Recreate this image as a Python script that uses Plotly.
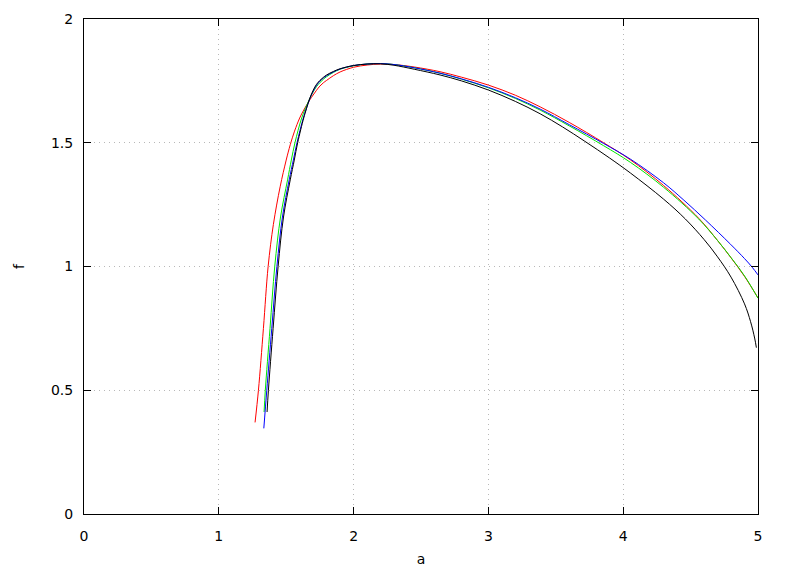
import plotly.graph_objects as go

# ---- data ----
red_a = [1.269, 1.294, 1.331, 1.366, 1.405, 1.455, 1.500, 1.530, 1.562, 1.600, 1.630, 1.675, 1.700, 1.725, 1.750, 1.775, 1.800, 1.850, 1.900, 2.000, 2.100, 2.200, 2.300, 2.450, 2.641, 2.800, 3.000, 3.200, 3.384, 3.600, 3.855, 4.053, 4.300, 4.560, 4.700, 4.800, 4.900, 5.000]
red_f = [0.370, 0.500, 0.750, 1.000, 1.170, 1.322, 1.430, 1.492, 1.547, 1.600, 1.632, 1.673, 1.693, 1.712, 1.729, 1.742, 1.752, 1.771, 1.786, 1.805, 1.814, 1.818, 1.816, 1.806, 1.787, 1.765, 1.733, 1.692, 1.645, 1.582, 1.500, 1.431, 1.327, 1.195, 1.105, 1.035, 0.960, 0.873]

green_a = [1.336, 1.345, 1.380, 1.415, 1.458, 1.510, 1.538, 1.565, 1.615, 1.670, 1.700, 1.725, 1.750, 1.775, 1.800, 1.850, 1.900, 2.000, 2.100, 2.200, 2.300, 2.450, 2.641, 2.800, 3.000, 3.200, 3.384, 3.600, 3.855, 4.053, 4.300, 4.560, 4.700, 4.800, 4.900, 5.000]
green_f = [0.412, 0.500, 0.750, 1.000, 1.200, 1.350, 1.430, 1.500, 1.600, 1.673, 1.705, 1.727, 1.743, 1.756, 1.767, 1.784, 1.797, 1.811, 1.818, 1.820, 1.816, 1.803, 1.781, 1.757, 1.722, 1.679, 1.632, 1.568, 1.488, 1.421, 1.320, 1.192, 1.105, 1.036, 0.962, 0.872]

blue_a = [1.334, 1.356, 1.393, 1.431, 1.472, 1.522, 1.553, 1.580, 1.627, 1.672, 1.700, 1.725, 1.750, 1.775, 1.800, 1.850, 1.900, 2.000, 2.100, 2.200, 2.300, 2.450, 2.641, 2.800, 3.000, 3.200, 3.384, 3.600, 3.855, 4.053, 4.300, 4.450, 4.610, 4.796, 4.900, 4.957, 5.000]
blue_f = [0.346, 0.500, 0.750, 1.000, 1.200, 1.350, 1.430, 1.500, 1.600, 1.673, 1.708, 1.732, 1.749, 1.761, 1.771, 1.786, 1.798, 1.812, 1.818, 1.820, 1.816, 1.803, 1.781, 1.758, 1.724, 1.682, 1.636, 1.573, 1.497, 1.434, 1.338, 1.268, 1.188, 1.090, 1.032, 0.997, 0.966]

black_a = [1.358, 1.368, 1.403, 1.440, 1.480, 1.530, 1.560, 1.585, 1.630, 1.650, 1.670, 1.700, 1.725, 1.750, 1.775, 1.800, 1.850, 1.900, 2.000, 2.100, 2.200, 2.300, 2.450, 2.641, 2.800, 3.000, 3.200, 3.384, 3.550, 3.715, 3.900, 4.053, 4.300, 4.461, 4.600, 4.700, 4.800, 4.900, 4.945, 4.975, 4.988]
black_f = [0.412, 0.500, 0.750, 1.000, 1.200, 1.350, 1.430, 1.500, 1.600, 1.637, 1.672, 1.712, 1.736, 1.752, 1.764, 1.774, 1.788, 1.799, 1.812, 1.818, 1.819, 1.813, 1.797, 1.774, 1.750, 1.713, 1.667, 1.617, 1.564, 1.506, 1.438, 1.378, 1.272, 1.192, 1.109, 1.039, 0.957, 0.849, 0.777, 0.711, 0.672]

x_ticks = [0, 1, 2, 3, 4, 5]
y_ticks = [0, 0.5, 1, 1.5, 2]
y_tick_labels = ["0", "0.5", "1", "1.5", "2"]

series = [
    (red_a, red_f, "#ff0000"),
    (green_a, green_f, "#00e600"),
    (blue_a, blue_f, "#0000ff"),
    (black_a, black_f, "#000000"),
]

fig = go.Figure()
for a, f, c in series:
    fig.add_trace(go.Scatter(x=a, y=f, mode="lines",
                             line=dict(color=c, width=1, shape="spline", smoothing=1.0),
                             showlegend=False, hoverinfo="skip"))

font = dict(family="DejaVu Sans, sans-serif", size=14, color="black")
axis_common = dict(
    showline=True, linecolor="black", linewidth=1, mirror="ticks",
    ticks="inside", ticklen=7, tickcolor="black", tickwidth=1,
    showgrid=True, gridcolor="#b8b8b8", griddash="1px,4px", gridwidth=1,
    zeroline=False, tickfont=font, automargin=False,
)
fig.update_xaxes(range=[0, 5], tickvals=x_ticks, ticktext=[str(v) for v in x_ticks],
                 title=dict(text="a", font=font, standoff=11), ticklabelstandoff=9, **axis_common)
fig.update_yaxes(range=[0, 2], tickvals=y_ticks, ticktext=y_tick_labels,
                 title=dict(text="f", font=font, standoff=23), ticklabelstandoff=7, **axis_common)

fig.update_layout(
    width=780, height=568, autosize=False,
    margin=dict(l=76, r=30, t=11, b=62),
    plot_bgcolor="white", paper_bgcolor="white",
    font=font,
)
fig.write_html("out.html")
